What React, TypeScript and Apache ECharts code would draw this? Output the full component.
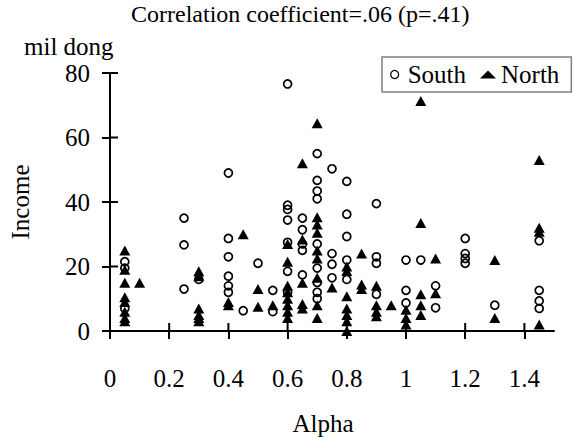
import React, { useEffect, useRef } from "react";
import * as echarts from "echarts";

const titleText = "Correlation coefficient=.06 (p=.41)";
const xTicks = [0, 0.2, 0.4, 0.6, 0.8, 1, 1.2, 1.4];
const yTicks = [0, 20, 40, 60, 80];

// South (circles): alpha, income (mil dong)
const southAlpha = [
  0.05, 0.05, 0.05,
  0.25, 0.25, 0.25,
  0.3,
  0.4, 0.4, 0.4, 0.4, 0.4, 0.4,
  0.45,
  0.5,
  0.55, 0.55,
  0.6, 0.6, 0.6, 0.6, 0.6, 0.6, 0.6,
  0.65, 0.65, 0.65, 0.65, 0.65,
  0.7, 0.7, 0.7, 0.7, 0.7, 0.7, 0.7, 0.7, 0.7,
  0.75, 0.75, 0.75, 0.75,
  0.8, 0.8, 0.8, 0.8, 0.8,
  0.9, 0.9, 0.9, 0.9,
  1.0, 1.0, 1.0,
  1.05,
  1.1, 1.1,
  1.2, 1.2, 1.2, 1.2,
  1.3,
  1.45, 1.45, 1.45, 1.45,
];
const southIncome = [
  21.5, 19.5, 7,
  35, 26.7, 13,
  16,
  49, 28.7, 23, 17, 14, 12,
  6.3,
  21,
  12.6, 6,
  76.6, 39, 37.7, 34.4, 27.5, 18.5, 12,
  35, 31.4, 27, 25, 17.4,
  55, 46.7, 43.4, 41, 27, 19.5, 15, 12, 10,
  50.3, 24, 20.7, 16.5,
  46.4, 36.2, 29.3, 22, 16,
  39.5, 23, 21, 11.4,
  22, 12.6, 8.7,
  22,
  14, 7.2,
  28.7, 24, 22.5, 21,
  8,
  28, 12.6, 9.3, 7,
];

// North (triangles): alpha, income (mil dong)
const northAlpha = [
  0.05, 0.05, 0.05, 0.05, 0.05, 0.05, 0.05, 0.05,
  0.1,
  0.3, 0.3, 0.3, 0.3, 0.3, 0.3,
  0.4, 0.4,
  0.45,
  0.5, 0.5,
  0.55,
  0.6, 0.6, 0.6, 0.6, 0.6, 0.6, 0.6, 0.6,
  0.65, 0.65, 0.65, 0.65, 0.65,
  0.7, 0.7, 0.7, 0.7, 0.7, 0.7, 0.7, 0.7, 0.7,
  0.75,
  0.8, 0.8, 0.8, 0.8, 0.8, 0.8, 0.8,
  0.85, 0.85, 0.85,
  0.9, 0.9, 0.9, 0.9,
  0.95,
  1.0, 1.0, 1.0,
  1.05, 1.05, 1.05, 1.05, 1.05,
  1.1, 1.1,
  1.3, 1.3,
  1.45, 1.45, 1.45, 1.45,
];
const northIncome = [
  25, 19, 15, 10.5, 9, 6, 4, 3,
  15,
  18.5, 17, 7, 5, 4, 3,
  9, 8,
  30,
  13, 7.5,
  8,
  27, 21.5, 14, 12, 10, 8, 6, 4,
  52, 28.4, 15, 8.4, 7,
  64.4, 35.3, 33, 30.5, 25, 22.5, 16.5, 8, 4,
  13.5,
  20, 18.6, 10.8, 7, 5, 3, 0,
  24, 14.4, 13,
  14, 8, 6, 4.6,
  8,
  6.6, 4, 2,
  71.3, 33.5, 11.4, 8, 5,
  22.5, 11.7,
  22, 4,
  53, 32, 30.8, 2,
];

const FONT = "Liberation Serif";

export default function App() {
  const ref = useRef<HTMLDivElement>(null);

  useEffect(() => {
    if (!ref.current) return;
    const chart = echarts.init(ref.current, undefined, { renderer: "svg" });

    const south = southAlpha.map((a, i) => [a, southIncome[i]]);
    const north = northAlpha.map((a, i) => [a, northIncome[i]]);

    chart.setOption({
      animation: false,
      backgroundColor: "#ffffff",
      textStyle: { fontFamily: FONT },
      title: {
        text: titleText,
        left: 131,
        top: 2,
        padding: 0,
        textStyle: { fontFamily: FONT, fontSize: 24, fontWeight: "normal", color: "#000" },
      },
      legend: {
        left: 382,
        top: 57,
        width: 200,
        orient: "horizontal",
        padding: [5, 12, 5, 8],
        itemGap: 14,
        itemWidth: 16,
        itemHeight: 8,
        borderColor: "#808080",
        borderWidth: 1.5,
        borderRadius: 0,
        textStyle: { fontFamily: FONT, fontSize: 25, color: "#000" },
        data: [
          { name: "South", icon: "circle", itemStyle: { color: "rgba(0,0,0,0)", borderColor: "#000", borderWidth: 1.3 } },
          { name: "North", icon: "triangle" },
        ],
      },
      grid: { left: 99, right: 19, top: 73, bottom: 101 },
      xAxis: {
        type: "value",
        min: 0,
        max: 1.5,
        position: "bottom",
        splitLine: { show: false },
        name: "Alpha",
        nameLocation: "middle",
        nameGap: 80,
        nameTextStyle: { fontFamily: FONT, fontSize: 25, color: "#000", padding: [0, 18, 0, 0] },
        axisLine: { show: true, onZero: false, lineStyle: { color: "#000", width: 2 } },
        axisTick: { show: true, inside: false, length: 8, lineStyle: { color: "#000", width: 2 }, customValues: xTicks },
        axisLabel: {
          show: true,
          margin: 35,
          customValues: xTicks,
          fontFamily: FONT,
          fontSize: 25,
          color: "#000",
          formatter: (v: number) => String(Math.round(v * 10) / 10),
        },
      },
      yAxis: {
        type: "value",
        min: 0,
        max: 80,
        interval: 20,
        position: "left",
        splitLine: { show: false },
        name: "Income",
        nameLocation: "middle",
        nameGap: 77,
        nameRotate: 90,
        nameTextStyle: { fontFamily: FONT, fontSize: 25, color: "#000" },
        axisLine: { show: true, onZero: false, lineStyle: { color: "#000", width: 2 } },
        axisTick: { show: true, inside: false, length: 8, lineStyle: { color: "#000", width: 2 } },
        axisLabel: { show: true, margin: 20, fontFamily: FONT, fontSize: 25, color: "#000" },
      },
      series: [
        {
          name: "South",
          type: "scatter",
          symbol: "circle",
          symbolSize: 8,
          itemStyle: { color: "rgba(0,0,0,0)", borderColor: "#000", borderWidth: 1.7, opacity: 1 },
          data: south,
          z: 3,
        },
        {
          name: "North",
          type: "scatter",
          symbol: "triangle",
          symbolSize: [11, 10],
          itemStyle: { color: "#000", opacity: 1 },
          data: north,
          z: 2,
        },
      ],
    });

    // Inner halves of the crossing tick marks, placed through the axis scales.
    const tickStyle = { stroke: "#000", lineWidth: 2 };
    const inner: any[] = [];
    xTicks.forEach((v) => {
      const p = chart.convertToPixel({ gridIndex: 0 }, [v, 0]) as number[];
      inner.push({ type: "line", z: 10, shape: { x1: p[0], y1: p[1], x2: p[0], y2: p[1] - 8 }, style: tickStyle, silent: true });
    });
    yTicks.forEach((v) => {
      const p = chart.convertToPixel({ gridIndex: 0 }, [0, v]) as number[];
      inner.push({ type: "line", z: 10, shape: { x1: p[0], y1: p[1], x2: p[0] + 8, y2: p[1] }, style: tickStyle, silent: true });
    });
    chart.setOption({
      graphic: [
        {
          type: "text",
          left: 24,
          top: 34,
          style: { text: "mil dong", fontFamily: FONT, fontSize: 25, fill: "#000" },
        },
        ...inner,
      ],
    });

    return () => chart.dispose();
  }, []);

  return <div ref={ref} style={{ width: 573, height: 441, position: "absolute", left: 0, top: 0 }} />;
}
